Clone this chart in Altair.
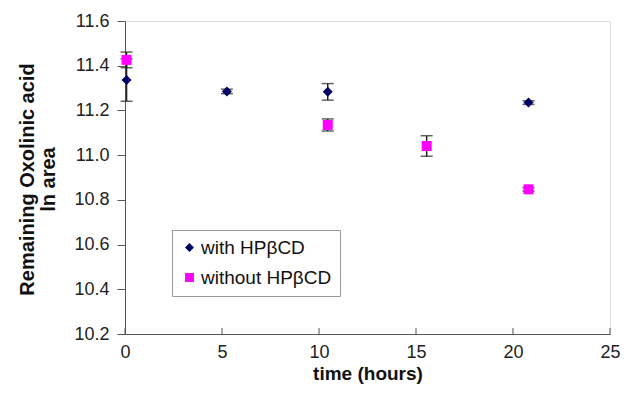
import altair as alt
import pandas as pd

# data
with_x = [0.08, 5.25, 10.45, 20.8]
with_y = [11.336, 11.285, 11.283, 11.235]
with_err = [0.095, 0.01, 0.037, 0.008]

without_x = [0.08, 10.45, 15.55, 20.8]
without_y = [11.426, 11.135, 11.041, 10.847]
without_err = [0.035, 0.027, 0.046, 0.008]

series_names = ["with HPβCD", "without HPβCD"]
x_ticks = [0, 5, 10, 15, 20, 25]
y_ticks = [10.2, 10.4, 10.6, 10.8, 11.0, 11.2, 11.4, 11.6]

rows = []
for x, y, e in zip(with_x, with_y, with_err):
    rows.append({"t": x, "v": y, "lo": y - e, "hi": y + e, "s": series_names[0]})
for x, y, e in zip(without_x, without_y, without_err):
    rows.append({"t": x, "v": y, "lo": y - e, "hi": y + e, "s": series_names[1]})
df = pd.DataFrame(rows)
ticks_df = pd.DataFrame({"t": x_ticks})

FONT = "Liberation Sans"
xs = alt.Scale(domain=[0, 25], nice=False, zero=False)
ys = alt.Scale(domain=[10.2, 11.6], nice=False, zero=False)

base = alt.Chart(df)

err_rule = base.mark_rule(color="#222222", strokeWidth=1.5).encode(
    x=alt.X("t:Q", scale=xs,
            axis=alt.Axis(values=x_ticks, title="time (hours)", grid=False,
                          ticks=False, labelPadding=9, labelFontSize=18,
                          labelFlush=False,
                          titleFontSize=19, titleFontWeight="bold",
                          titleY=39, titleBaseline="middle",
                          domainColor="#555555", labelColor="#222222",
                          titleColor="#111111", labelFont=FONT, titleFont=FONT)),
    y=alt.Y("lo:Q", scale=ys,
            axis=alt.Axis(values=y_ticks, format=".1f",
                          title=["Remaining Oxolinic acid", "ln area"],
                          grid=False, tickSize=8, tickColor="#555555",
                          labelPadding=8, labelFontSize=18, labelFlush=False,
                          titleFontSize=20, titleFontWeight="bold",
                          titleAngle=-90, titleX=-98, titleY=158,
                          titleBaseline="middle", titleAlign="center",
                          titleLineHeight=21,
                          domainColor="#555555", labelColor="#222222",
                          titleColor="#111111", labelFont=FONT, titleFont=FONT)),
    y2="hi:Q",
)

err_cap_lo = base.mark_tick(color="#222222", orient="horizontal", size=12, thickness=1.5).encode(
    x=alt.X("t:Q", scale=xs), y=alt.Y("lo:Q", scale=ys))
err_cap_hi = base.mark_tick(color="#222222", orient="horizontal", size=12, thickness=1.5).encode(
    x=alt.X("t:Q", scale=xs), y=alt.Y("hi:Q", scale=ys))

legend_cfg = dict(title=None, orient="none", legendX=47, legendY=209,
                  padding=8, strokeColor="#999999", fillColor="white",
                  labelFontSize=19, labelFont=FONT, labelColor="#111111",
                  symbolSize=80, labelOffset=2, rowPadding=10,
                  symbolStrokeWidth=0, cornerRadius=0)

points = base.mark_point(filled=True, opacity=1, size=100).encode(
    x=alt.X("t:Q", scale=xs),
    y=alt.Y("v:Q", scale=ys),
    color=alt.Color("s:N", scale=alt.Scale(domain=series_names, range=["#000060", "#ff00ff"]),
                    legend=alt.Legend(**legend_cfg)),
    shape=alt.Shape("s:N", scale=alt.Scale(domain=series_names, range=["diamond", "square"]),
                    legend=alt.Legend(**legend_cfg)),
)

xtick_marks = alt.Chart(ticks_df).mark_rule(color="#555555", strokeWidth=1).encode(
    x=alt.X("t:Q", scale=xs),
    y=alt.value(313),
    y2=alt.value(307),
)

chart = alt.layer(xtick_marks, err_rule, err_cap_lo, err_cap_hi, points).properties(
    width=485, height=313,
    autosize=alt.AutoSizeParams(type="none"),
    padding={"left": 117, "top": 13, "right": 20, "bottom": 50},
).configure_view(strokeWidth=0).configure(background="white")

chart.save("out.html", embed_options={"renderer": "svg", "actions": False})
